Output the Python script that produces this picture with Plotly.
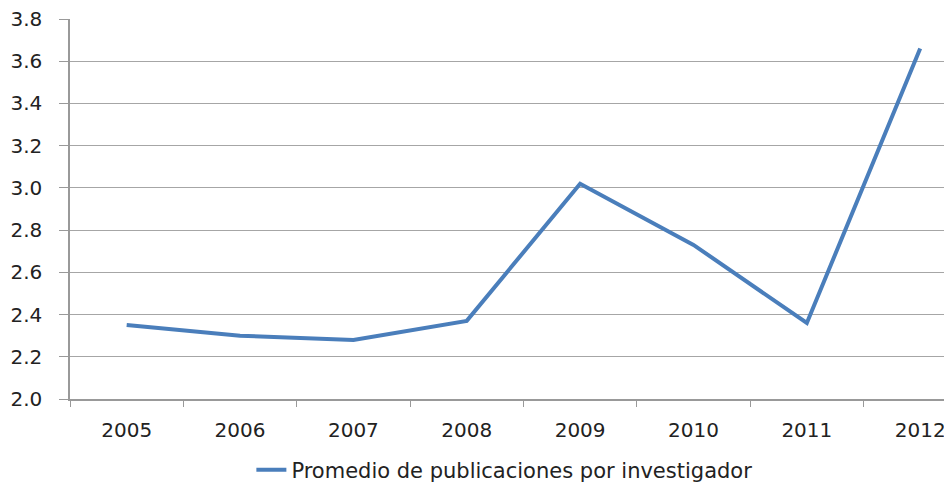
import plotly.graph_objects as go

years = ["2005", "2006", "2007", "2008", "2009", "2010", "2011", "2012"]
promedio = [2.35, 2.30, 2.28, 2.37, 3.02, 2.73, 2.36, 3.66]
series_name = "Promedio de publicaciones por investigador"

fig = go.Figure()
fig.add_trace(go.Scatter(
    x=years, y=promedio, mode="lines", name=series_name,
    line=dict(color="#4a7ebb", width=4),
    showlegend=True,
))

font = dict(family="DejaVu Sans", size=20, color="#222222")
fig.update_layout(
    width=944, height=491,
    margin=dict(l=70, r=0, t=19, b=86),
    paper_bgcolor="#ffffff", plot_bgcolor="#ffffff",
    font=font,
    showlegend=True,
    legend=dict(orientation="h", x=0.497, xanchor="center", y=-0.187, yanchor="middle",
                font=dict(family="DejaVu Sans", size=21, color="#222222")),
    xaxis=dict(type="category", range=[-0.5, 7.21], tickson="boundaries",
               ticks="outside", ticklen=6, tickcolor="#999999",
               showline=True, linecolor="#999999", linewidth=1.5,
               showgrid=False, tickfont=font, automargin=False,
               ticklabelstandoff=12, ticklabeloverflow="allow"),
    yaxis=dict(range=[2.0, 3.8], dtick=0.2, tickformat=".1f",
               ticks="outside", ticklen=9, tickcolor="#999999",
               showline=True, linecolor="#999999", linewidth=1.5,
               showgrid=True, gridcolor="#a6a6a6", gridwidth=1,
               zeroline=False, tickfont=font, automargin=False,
               ticklabelstandoff=13, ticklabeloverflow="allow"),
)
fig.write_html(
    "out.html",
    config={"displayModeBar": False},
    post_script="document.body.style.margin='0';document.body.style.overflow='hidden';",
)
